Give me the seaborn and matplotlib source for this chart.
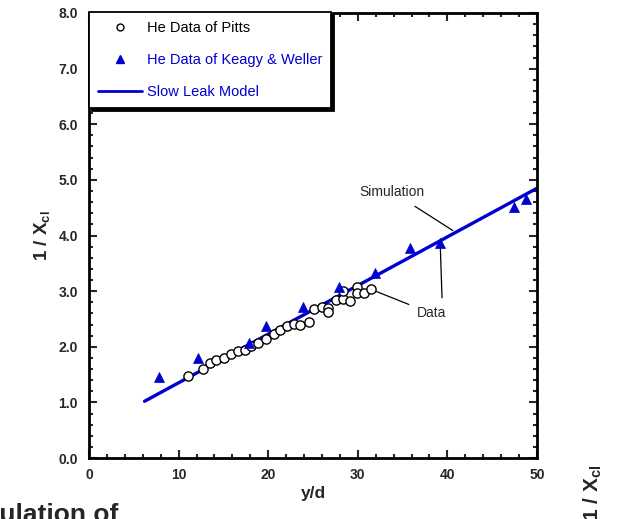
import numpy as np
import pandas as pd
import matplotlib
matplotlib.use("Agg")
import matplotlib.pyplot as plt
import seaborn as sns
from matplotlib.lines import Line2D
from matplotlib.ticker import MultipleLocator, FormatStrFormatter

# ---- data ----
pitts_x = [11.0, 12.7, 13.5, 14.2, 15.1, 15.8, 16.6, 17.4, 18.1, 18.9, 19.8, 20.6,
           21.3, 22.1, 22.9, 23.6, 24.5, 25.1, 26.0, 26.7, 26.7, 27.6, 28.3, 28.4,
           29.1, 29.9, 29.9, 30.7, 31.5]
pitts_y = [1.47, 1.60, 1.71, 1.77, 1.80, 1.87, 1.92, 1.95, 2.02, 2.07, 2.14, 2.23,
           2.31, 2.38, 2.41, 2.40, 2.45, 2.67, 2.72, 2.70, 2.62, 2.84, 2.85, 3.00,
           2.82, 3.08, 2.96, 2.96, 3.03]
keagy_x = [7.85, 12.2, 17.9, 19.8, 23.9, 27.9, 31.9, 35.8, 39.2, 47.4, 48.8]
keagy_y = [1.45, 1.79, 2.07, 2.38, 2.71, 3.08, 3.33, 3.77, 3.86, 4.51, 4.65]
model_x = [6.2, 50.0]
model_y = [1.02, 4.85]

legend_labels = ["He Data of Pitts", "He Data of Keagy & Weller", "Slow Leak Model"]
x_ticks = [0, 10, 20, 30, 40, 50]
y_ticks = [0.0, 1.0, 2.0, 3.0, 4.0, 5.0, 6.0, 7.0, 8.0]

BLUE = "#0000d0"

sns.set_style("white")
plt.rcParams["font.family"] = ["Liberation Sans", "DejaVu Sans"]
plt.rcParams["mathtext.fontset"] = "custom"
plt.rcParams["mathtext.rm"] = "Liberation Sans"
plt.rcParams["mathtext.bf"] = "Liberation Sans:bold"

fig = plt.figure(figsize=(6.23, 5.19), dpi=100)
ax = fig.add_axes([89/623, 1-458/519, (537-89)/623, (458-13)/519])

df_model = pd.DataFrame({"x": model_x, "y": model_y})
df_p = pd.DataFrame({"x": pitts_x, "y": pitts_y})
df_k = pd.DataFrame({"x": keagy_x, "y": keagy_y})

sns.lineplot(data=df_model, x="x", y="y", ax=ax, color=BLUE, lw=2.4, zorder=2,
             legend=False)
sns.scatterplot(data=df_p, x="x", y="y", ax=ax, marker="o", s=44,
                facecolor="white", edgecolor="black", linewidth=1.0, zorder=3,
                legend=False)
sns.scatterplot(data=df_k, x="x", y="y", ax=ax, marker="^", s=52,
                color=BLUE, edgecolor=BLUE, linewidth=0.5, zorder=4, legend=False)

ax.set_xlim(0, 50)
ax.set_ylim(0, 8)
ax.set_xticks(x_ticks)
ax.set_yticks(y_ticks)
ax.xaxis.set_minor_locator(MultipleLocator(2))
ax.yaxis.set_minor_locator(MultipleLocator(0.2))
ax.yaxis.set_major_formatter(FormatStrFormatter("%.1f"))
ax.tick_params(which="both", direction="in", top=True, right=True,
               bottom=True, left=True, width=1.5)
ax.tick_params(which="major", length=6, labelsize=10)
ax.tick_params(axis="y", which="major", pad=8)
ax.tick_params(axis="x", which="major", pad=7)
ax.tick_params(which="minor", length=3)
for lab in ax.get_xticklabels() + ax.get_yticklabels():
    lab.set_fontweight("bold")
for sp in ax.spines.values():
    sp.set_linewidth(2)
    sp.set_color("black")

ax.set_xlabel("y/d", fontsize=12.5, fontweight="bold", labelpad=3)
ax.set_ylabel(r"1 / X$_{\mathbf{cl}}$", fontsize=13.5, fontweight="bold", labelpad=4)

# annotations
ax.annotate("Simulation", xy=(40.6, 4.09), xytext=(33.8, 4.79),
            ha="center", va="center", fontsize=10,
            arrowprops=dict(arrowstyle="-", color="black", lw=0.9,
                            shrinkA=6, shrinkB=0))
ax.text(38.2, 2.60, "Data", ha="center", va="center", fontsize=10)
ax.annotate("", xy=(39.2, 3.84), xytext=(39.4, 2.88),
            arrowprops=dict(arrowstyle="-", color="black", lw=0.9,
                            shrinkA=0, shrinkB=0))
ax.annotate("", xy=(31.5, 3.03), xytext=(35.7, 2.76),
            arrowprops=dict(arrowstyle="-", color="black", lw=0.9,
                            shrinkA=0, shrinkB=4))

# legend
handles = [
    Line2D([], [], marker="o", ls="none", markersize=5, markerfacecolor="white",
           markeredgecolor="black", markeredgewidth=1.0),
    Line2D([], [], marker="^", ls="none", markersize=6, color=BLUE),
    Line2D([], [], color=BLUE, lw=2),
]
leg = ax.legend(handles, legend_labels, loc="upper left", bbox_to_anchor=(0, 1.002),
                borderaxespad=0, fancybox=False, framealpha=1, edgecolor="black",
                fontsize=10.5, handlelength=3.0, handletextpad=0.35,
                labelspacing=1.25, borderpad=0.6, labelcolor=["black", BLUE, BLUE],
                shadow={"color": "black", "alpha": 1})
leg.get_frame().set_linewidth(1.3)
leg.set_zorder(10)

# clipped remnants of neighbouring content (cut by the figure edge, as in the reference)
fig.text(118/623, 1-522/519, "Simulation of", ha="right", va="baseline",
         fontsize=19, fontweight="bold")
fig.text(593/623, -0.004, r"1 / X$_{\mathbf{cl}}$", rotation=90, ha="center",
         va="bottom", fontsize=15, fontweight="bold")

fig.savefig("out.png", dpi=100)
